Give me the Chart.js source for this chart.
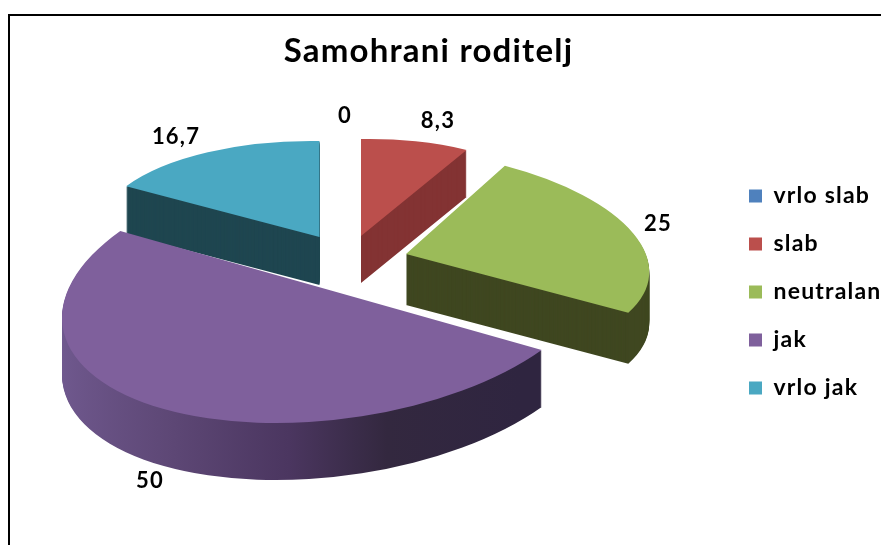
<!DOCTYPE html>
<html><head><meta charset="utf-8">
<style>
html,body{margin:0;padding:0;background:#fff;overflow:hidden;width:881px;height:545px}
#frame{position:absolute;left:8px;top:13.5px;width:900px;height:560px;border:2px solid #000;box-sizing:border-box}
canvas{position:absolute;left:0;top:0}
</style>
<script src="https://cdn.jsdelivr.net/npm/chart.js@4"></script>
</head><body>
<div id="frame"></div>
<div style="position:absolute;left:0;top:0;width:881px;height:545px"><canvas id="c" width="881" height="545"></canvas></div>
<script>
const chartTitle = 'Samohrani roditelj';
const categories = ['vrlo slab','slab','neutralan','jak','vrlo jak'];
const values = [0, 8.3, 25, 50, 16.7];
const topColors = ['#4f81bd','#bb4f4c','#9bbb59','#7f609c','#4aa8c2'];
const wallColors = ['#2a4564','#833333','#3f4720',null,'#1f4650'];
const purpleWallStops = [[0,'#70598f'],[0.3,'#5d4775'],[0.55,'#4b3660'],[0.75,'#33283f'],[1,'#2f2540']];

// Per-slice projection of the library's flat pie into the tilted 3D view: [a,b,c,d,originX,originY,depth]
const sliceViews = [
  [212,-4,0,97,361,236,47],
  [212,-4,0,97,361,236,47],
  [242,7,25,105.7,406,254,51],
  [266,-7.5,-40,132.4,331,290.5,57],
  [223,3.5,0,96,319.5,237,48]
];
const labelSpots = [[345,116],[438,121],[658,224],[150,481],[176,137]];
const drawOrder = [4,0,1,2,3];
const FONT = 'Lato, Carlito, sans-serif';
const TRACKING = '1.2px';

const pie3d = {
  id:'pie3d',
  beforeLayout(chart){ chart.ctx.letterSpacing = TRACKING; },
  afterLayout(chart){
    const t = chart.titleBlock; t.right -= 24;
    const l = chart.legend, w = l.right - l.left;
    l.left = 724; l.right = 724 + w;
    const h = l.bottom - l.top;
    l.top = 292 - h/2; l.bottom = l.top + h;
  },
  beforeDraw(chart){ chart.ctx.letterSpacing = TRACKING; },
  beforeDatasetsDraw(chart){
    const ctx = chart.ctx, arcs = chart.getDatasetMeta(0).data;
    for (const i of drawOrder){
      const arc = arcs[i], v = sliceViews[i], R = arc.outerRadius, base = arc.options;
      const place = dy => {
        ctx.transform(v[0]/R,v[1]/R,v[2]/R,v[3]/R,v[4],v[5]+dy);
        ctx.translate(-arc.x,-arc.y);
      };
      let wall = wallColors[i];
      if (!wall){
        const g = ctx.createLinearGradient(arc.x-R,0,arc.x+R*0.8,0);
        purpleWallStops.forEach(s=>g.addColorStop(s[0],s[1]));
        wall = g;
      }
      arc.options = Object.assign({},base,{backgroundColor:wall});
      for (let d=v[6]; d>=1; d--){ ctx.save(); place(d); arc.draw(ctx); ctx.restore(); }
      arc.options = base;
      ctx.save(); place(0); arc.draw(ctx); ctx.restore();
    }
    ctx.save();
    ctx.font = 'bold 22px '+FONT;
    ctx.fillStyle = '#000'; ctx.textAlign='center'; ctx.textBaseline='middle';
    values.forEach((val,i)=>ctx.fillText(String(val).replace('.',','),labelSpots[i][0],labelSpots[i][1]));
    ctx.restore();
    return false;
  }
};

new Chart(document.getElementById('c'),{
  type:'pie',
  data:{labels:categories,datasets:[{data:values,backgroundColor:topColors,borderWidth:0}]},
  plugins:[pie3d],
  options:{
    responsive:false,animation:false,
    layout:{padding:0},
    plugins:{
      tooltip:{enabled:false},
      title:{display:true,text:chartTitle,color:'#000',font:{family:FONT,size:33,weight:'bold'},padding:{top:32,bottom:8}},
      legend:{position:'right',labels:{boxWidth:13,boxHeight:13,padding:25,color:'#000',font:{family:FONT,size:23,weight:'bold'}}}
    }
  }
});
</script>
</body></html>
